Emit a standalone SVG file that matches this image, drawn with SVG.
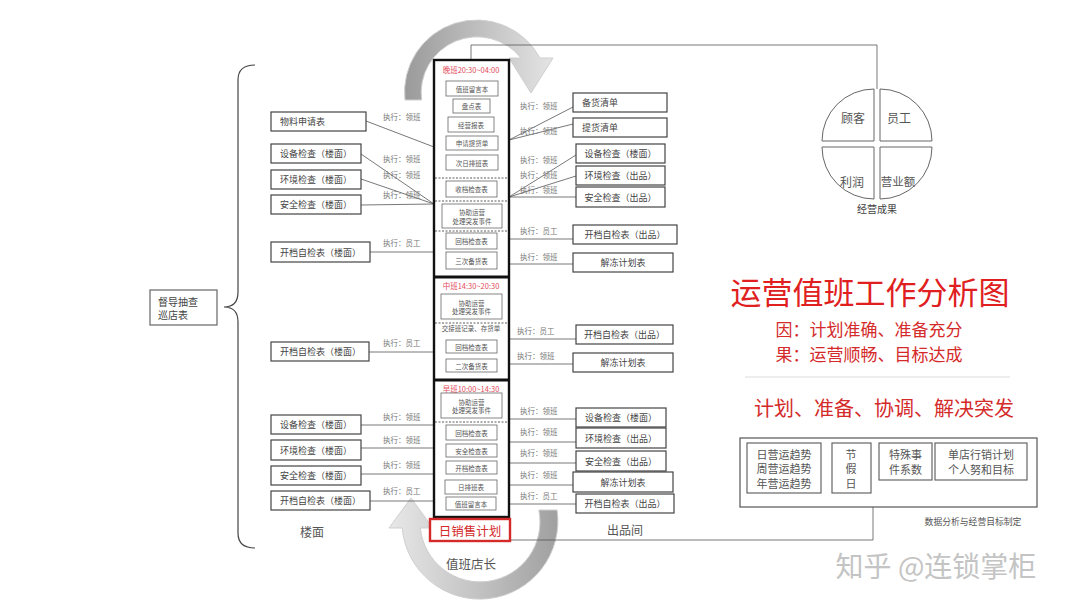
<svg xmlns="http://www.w3.org/2000/svg" width="1080" height="608" viewBox="0 0 1080 608">
<defs>
<linearGradient id="gTop" x1="0" y1="0" x2="1" y2="0">
<stop offset="0" stop-color="#9a9a9a"/><stop offset="1" stop-color="#e4e4e4"/>
</linearGradient>
<linearGradient id="gBot" x1="1" y1="0" x2="0" y2="0">
<stop offset="0" stop-color="#a0a0a0"/><stop offset="1" stop-color="#e8e8e8"/>
</linearGradient>
<style>
text{font-family:"Noto Sans CJK SC","Noto Sans",sans-serif;dominant-baseline:central}
.bx{fill:#fff;stroke:#444;stroke-width:1.2}
.sb{fill:#fff;stroke:#666;stroke-width:0.8}
.t{font-size:9px;fill:#444}
.tc{font-size:9px;fill:#444;text-anchor:middle}
.st{font-size:6.5px;fill:#555;text-anchor:middle}
.ex{font-size:7.5px;fill:#777}
.ln{stroke:#555;stroke-width:0.8;fill:none}
.dl{stroke:#333;stroke-width:0.8;stroke-dasharray:2 1.5}
.red{fill:#e34b5a;font-size:7.5px;text-anchor:middle}
.pie{fill:#fff;stroke:#666;stroke-width:1}
.pt{font-size:12px;fill:#555;text-anchor:middle}
.dt{font-size:11px;fill:#555;text-anchor:middle}
</style>
</defs>
<rect width="1080" height="608" fill="#fff"/>

<!-- cycle arrows -->
<g id="cycle">
<path d="M 405,100 A 72 72 0 0 1 540,58 L 553,58 L 531,93 L 509,58 L 521,58 A 56 56 0 0 0 421.6,100 Z" fill="url(#gTop)" stroke="#cfcfcf" stroke-width="1"/>
<path d="M 557.1,510 A 78 78 0 1 1 402.2,528 L 389,528 L 411,498 L 433,528 L 420.3,528 A 60 60 0 1 0 538.8,510 Z" fill="url(#gBot)" stroke="#cfcfcf" stroke-width="1"/>
</g>

<!-- connectors -->
<g id="connectors">
<polyline class="ln" points="471,60 471,45 877,45 877,89"/>
<polyline class="ln" points="510,540 873,540 873,507"/>
<line class="ln" x1="366" y1="121" x2="434" y2="147"/>
<line class="ln" x1="361" y1="154" x2="434" y2="204"/>
<line class="ln" x1="361" y1="179" x2="434" y2="204"/>
<line class="ln" x1="361" y1="205" x2="434" y2="204"/>
<line class="ln" x1="370" y1="252" x2="434" y2="252"/>
<line class="ln" x1="369" y1="352" x2="434" y2="352"/>
<line class="ln" x1="361" y1="425" x2="434" y2="425"/>
<line class="ln" x1="361" y1="448" x2="434" y2="448"/>
<line class="ln" x1="361" y1="474" x2="434" y2="474"/>
<line class="ln" x1="370" y1="501" x2="434" y2="501"/>
<line class="ln" x1="509" y1="140" x2="573" y2="107"/>
<line class="ln" x1="509" y1="140" x2="573" y2="124"/>
<line class="ln" x1="509" y1="197" x2="576" y2="155"/>
<line class="ln" x1="509" y1="197" x2="576" y2="176"/>
<line class="ln" x1="509" y1="197" x2="576" y2="197"/>
<line class="ln" x1="509" y1="239" x2="573" y2="239"/>
<line class="ln" x1="509" y1="264" x2="573" y2="264"/>
<line class="ln" x1="509" y1="339" x2="576" y2="339"/>
<line class="ln" x1="509" y1="364" x2="573" y2="364"/>
<line class="ln" x1="509" y1="419" x2="576" y2="419"/>
<line class="ln" x1="509" y1="442" x2="576" y2="442"/>
<line class="ln" x1="509" y1="463" x2="576" y2="463"/>
<line class="ln" x1="509" y1="485" x2="573" y2="485"/>
<line class="ln" x1="509" y1="504" x2="576" y2="504"/>
</g>

<!-- labels on connectors -->
<g id="exec-labels">
<text class="ex" x="383" y="116">执行：领班</text>
<text class="ex" x="383" y="158">执行：领班</text>
<text class="ex" x="383" y="174">执行：领班</text>
<text class="ex" x="383" y="194">执行：领班</text>
<text class="ex" x="383" y="242">执行：员工</text>
<text class="ex" x="383" y="342">执行：员工</text>
<text class="ex" x="383" y="416">执行：领班</text>
<text class="ex" x="383" y="439">执行：领班</text>
<text class="ex" x="383" y="464">执行：领班</text>
<text class="ex" x="383" y="490">执行：员工</text>
<text class="ex" x="520" y="105">执行：领班</text>
<text class="ex" x="520" y="130">执行：领班</text>
<text class="ex" x="520" y="159">执行：领班</text>
<text class="ex" x="520" y="174">执行：领班</text>
<text class="ex" x="520" y="189">执行：领班</text>
<text class="ex" x="520" y="230">执行：员工</text>
<text class="ex" x="520" y="256">执行：领班</text>
<text class="ex" x="517" y="330">执行：员工</text>
<text class="ex" x="517" y="355">执行：领班</text>
<text class="ex" x="520" y="410">执行：领班</text>
<text class="ex" x="520" y="431">执行：领班</text>
<text class="ex" x="520" y="452">执行：领班</text>
<text class="ex" x="520" y="474">执行：领班</text>
<text class="ex" x="520" y="495">执行：员工</text>
</g>

<!-- left brace + supervisor box -->
<g id="brace">
<path d="M 255,65 Q 238,65 238,80 L 238,292 Q 238,307 224,307 Q 238,307 238,322 L 238,533 Q 238,548 255,548" fill="none" stroke="#444" stroke-width="1.2"/>
</g>
<g id="n-supervise">
<rect class="bx" x="150" y="290" width="67" height="35" style="stroke:#666"/>
<text class="t" x="158" y="301" style="font-size:10px">督导抽查</text>
<text class="t" x="158" y="314" style="font-size:10px">巡店表</text>
</g>

<!-- left boxes -->
<g id="n-l1"><rect class="bx" x="271" y="112" width="95" height="19"/><text class="t" x="280" y="121.5">物料申请表</text></g>
<g id="n-l2"><rect class="bx" x="271" y="144" width="90" height="19"/><text class="t" x="280" y="153.5">设备检查（楼面）</text></g>
<g id="n-l3"><rect class="bx" x="271" y="170" width="90" height="19"/><text class="t" x="280" y="179.5">环境检查（楼面）</text></g>
<g id="n-l4"><rect class="bx" x="271" y="195" width="90" height="19"/><text class="t" x="280" y="204.5">安全检查（楼面）</text></g>
<g id="n-l5"><rect class="bx" x="271" y="242" width="99" height="20"/><text class="t" x="280" y="252">开档自检表（楼面）</text></g>
<g id="n-l6"><rect class="bx" x="271" y="342" width="98" height="19"/><text class="t" x="280" y="351.5">开档自检表（楼面）</text></g>
<g id="n-l7"><rect class="bx" x="271" y="415" width="90" height="19"/><text class="t" x="280" y="424.5">设备检查（楼面）</text></g>
<g id="n-l8"><rect class="bx" x="271" y="440" width="90" height="20"/><text class="t" x="280" y="450">环境检查（楼面）</text></g>
<g id="n-l9"><rect class="bx" x="271" y="466" width="90" height="19"/><text class="t" x="280" y="475.5">安全检查（楼面）</text></g>
<g id="n-l10"><rect class="bx" x="271" y="491" width="99" height="19"/><text class="t" x="280" y="500.5">开档自检表（楼面）</text></g>
<text x="312" y="531" style="font-size:12px;fill:#555;text-anchor:middle">楼面</text>

<!-- right boxes -->
<g id="n-r1"><rect class="bx" x="573" y="93" width="94" height="19"/><text class="t" x="582" y="102.5">备货清单</text></g>
<g id="n-r2"><rect class="bx" x="573" y="118" width="94" height="19"/><text class="t" x="582" y="127.5">提货清单</text></g>
<g id="n-r3"><rect class="bx" x="576" y="144" width="89" height="19"/><text class="tc" x="620.5" y="153.5">设备检查（楼面）</text></g>
<g id="n-r4"><rect class="bx" x="576" y="166" width="89" height="19"/><text class="tc" x="620.5" y="175.5">环境检查（出品）</text></g>
<g id="n-r5"><rect class="bx" x="576" y="187" width="89" height="20"/><text class="tc" x="620.5" y="197">安全检查（出品）</text></g>
<g id="n-r6"><rect class="bx" x="573" y="225" width="104" height="19"/><text class="tc" x="625" y="234.5">开档自检表（出品）</text></g>
<g id="n-r7"><rect class="bx" x="573" y="253" width="100" height="19"/><text class="tc" x="623" y="262.5">解冻计划表</text></g>
<g id="n-r8"><rect class="bx" x="576" y="325" width="97" height="19"/><text class="tc" x="624.5" y="334.5">开档自检表（出品）</text></g>
<g id="n-r9"><rect class="bx" x="573" y="353" width="100" height="19"/><text class="tc" x="623" y="362.5">解冻计划表</text></g>
<g id="n-r10"><rect class="bx" x="576" y="408" width="90" height="19"/><text class="tc" x="621" y="417.5">设备检查（楼面）</text></g>
<g id="n-r11"><rect class="bx" x="576" y="428" width="90" height="20"/><text class="tc" x="621" y="438">环境检查（出品）</text></g>
<g id="n-r12"><rect class="bx" x="576" y="451" width="90" height="20"/><text class="tc" x="621" y="461">安全检查（出品）</text></g>
<g id="n-r13"><rect class="bx" x="573" y="472" width="100" height="20"/><text class="tc" x="623" y="482">解冻计划表</text></g>
<g id="n-r14"><rect class="bx" x="576" y="494" width="98" height="19"/><text class="tc" x="625" y="503.5">开档自检表（出品）</text></g>
<text x="625" y="529" style="font-size:12px;fill:#555;text-anchor:middle">出品间</text>

<!-- center column -->
<g id="n-center">
<rect x="434" y="60" width="75" height="457" fill="#fff" stroke="#111" stroke-width="2.4"/>
<line x1="434" y1="277" x2="509" y2="277" stroke="#111" stroke-width="3"/>
<line x1="434" y1="380" x2="509" y2="380" stroke="#111" stroke-width="3"/>
<line class="dl" x1="435" y1="178" x2="508" y2="178"/>
<line class="dl" x1="435" y1="201" x2="508" y2="201"/>
<line class="dl" x1="435" y1="231" x2="508" y2="231"/>
<line class="dl" x1="435" y1="323" x2="508" y2="323"/>
<line class="dl" x1="435" y1="422" x2="508" y2="422"/>

<text class="red" x="471" y="69">晚班20:30~04:00</text>
<rect class="sb" x="446" y="81" width="52" height="15"/><text class="st" x="472" y="88.5">值班留言本</text>
<rect class="sb" x="453" y="99" width="37" height="14"/><text class="st" x="471.5" y="106">盘点表</text>
<rect class="sb" x="448" y="117" width="46" height="15"/><text class="st" x="471" y="124.5">经营报表</text>
<rect class="sb" x="446" y="136" width="52" height="14"/><text class="st" x="472" y="143">申请提货单</text>
<rect class="sb" x="446" y="155" width="52" height="15"/><text class="st" x="472" y="162.5">次日排班表</text>
<rect class="sb" x="446" y="181" width="51" height="16"/><text class="st" x="471.5" y="189">收档检查表</text>
<rect class="sb" x="442" y="204" width="60" height="24"/><text class="st" x="472" y="212">协助运营</text><text class="st" x="472" y="220.5">处理突发事件</text>
<rect class="sb" x="446" y="233" width="51" height="16"/><text class="st" x="471.5" y="241">回档检查表</text>
<rect class="sb" x="446" y="252" width="51" height="17"/><text class="st" x="471.5" y="260.5">三次备货表</text>

<text class="red" x="471" y="285">中班14:30~20:30</text>
<rect class="sb" x="441" y="294" width="61" height="25"/><text class="st" x="471.5" y="302.5">协助运营</text><text class="st" x="471.5" y="311">处理突发事件</text>
<text class="st" x="471" y="328">交接班记录、存货单</text>
<rect class="sb" x="446" y="340" width="51" height="13"/><text class="st" x="471.5" y="346.5">回档检查表</text>
<rect class="sb" x="446" y="359" width="51" height="13"/><text class="st" x="471.5" y="365.5">二次备货表</text>

<text class="red" x="471" y="388">早班10:00~14:30</text>
<rect class="sb" x="441" y="393" width="61" height="25"/><text class="st" x="471.5" y="401.5">协助运营</text><text class="st" x="471.5" y="410">处理突发事件</text>
<rect class="sb" x="446" y="425" width="51" height="15"/><text class="st" x="471.5" y="432.5">回档检查表</text>
<rect class="sb" x="446" y="444" width="51" height="13"/><text class="st" x="471.5" y="450.5">安全检查表</text>
<rect class="sb" x="446" y="461" width="51" height="13"/><text class="st" x="471.5" y="467.5">开档检查表</text>
<rect class="sb" x="445" y="480" width="52" height="14"/><text class="st" x="471" y="487">日排班表</text>
<rect class="sb" x="446" y="497" width="50" height="13"/><text class="st" x="471" y="503.5">值班留言本</text>
</g>

<g id="n-sales">
<rect x="430" y="519" width="80" height="22" fill="#fff" stroke="#d42a2a" stroke-width="2.4"/>
<text x="470" y="530" style="font-size:12.5px;fill:#d42a2a;text-anchor:middle">日销售计划</text>
<text x="471" y="563" style="font-size:12.5px;fill:#555;text-anchor:middle">值班店长</text>
</g>

<!-- pie -->
<g id="n-result">
<path class="pie" d="M874,141 L822,141 A52,52 0 0 1 874,89 Z"/>
<path class="pie" d="M880,141 L880,89 A52,52 0 0 1 932,141 Z"/>
<path class="pie" d="M880,147 L932,147 A52,52 0 0 1 880,199 Z"/>
<path class="pie" d="M874,147 L874,199 A52,52 0 0 1 822,147 Z"/>
<text class="pt" x="853" y="117">顾客</text>
<text class="pt" x="899" y="117">员工</text>
<text class="pt" x="852" y="181">利润</text>
<text class="pt" x="898" y="181" style="font-size:11.5px">营业额</text>
<text x="877" y="208" style="font-size:10px;fill:#444;text-anchor:middle">经营成果</text>
</g>

<!-- title block -->
<g id="title">
<text x="870" y="290" style="font-size:31px;fill:#e02020;text-anchor:middle">运营值班工作分析图</text>
<text x="869" y="328" style="font-size:17px;fill:#d42a2a;text-anchor:middle">因：计划准确、准备充分</text>
<text x="869" y="353" style="font-size:17px;fill:#d42a2a;text-anchor:middle">果：运营顺畅、目标达成</text>
<line x1="745" y1="377" x2="1010" y2="377" stroke="#ddd" stroke-width="1"/>
<text x="884" y="407" style="font-size:20px;fill:#d42a2a;text-anchor:middle">计划、准备、协调、解决突发</text>
</g>

<!-- data panel -->
<g id="n-data">
<rect class="bx" x="740" y="438" width="297" height="69" style="stroke:#555"/>
<rect class="bx" x="747" y="443" width="74" height="50" style="stroke:#666"/>
<text class="dt" x="784" y="453.5">日营运趋势</text><text class="dt" x="784" y="468">周营运趋势</text><text class="dt" x="784" y="482.5">年营运趋势</text>
<rect class="bx" x="832" y="443" width="39" height="50" style="stroke:#666"/>
<text class="dt" x="851" y="453.5">节</text><text class="dt" x="851" y="468">假</text><text class="dt" x="851" y="482.5">日</text>
<rect class="bx" x="879" y="443" width="53" height="37" style="stroke:#666"/>
<text class="dt" x="905.5" y="454">特殊事</text><text class="dt" x="905.5" y="469">件系数</text>
<rect class="bx" x="935" y="443" width="92" height="37" style="stroke:#666"/>
<text class="dt" x="981" y="454">单店行销计划</text><text class="dt" x="981" y="469">个人努和目标</text>
<text x="973" y="521" style="font-size:8.8px;fill:#555;text-anchor:middle">数据分析与经营目标制定</text>
</g>

<text x="936" y="565" style="font-size:28px;fill:#c4c4c4;text-anchor:middle">知乎 @连锁掌柜</text>
</svg>
